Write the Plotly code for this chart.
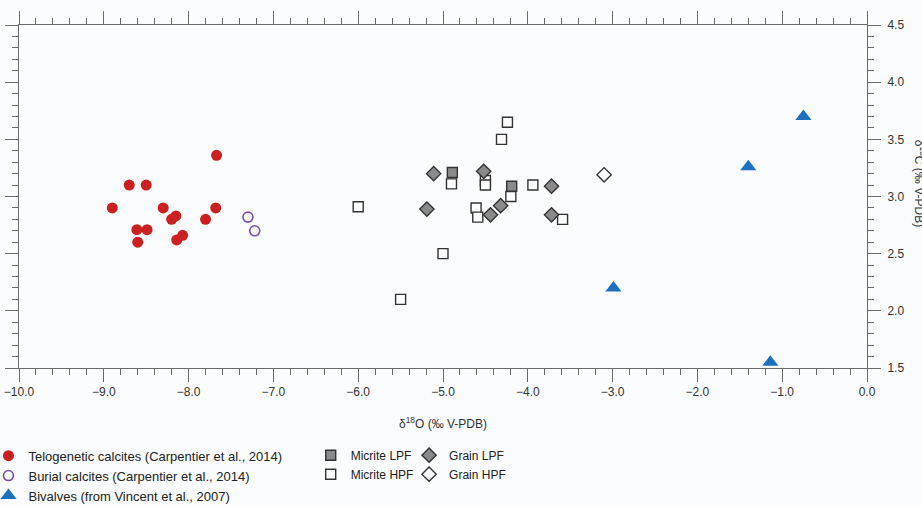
import plotly.graph_objects as go

# ---- data ----
telo_x = [-7.67, -8.70, -8.50, -8.90, -8.30, -8.20, -8.15, -7.68, -7.80, -8.61, -8.49, -8.60, -8.14, -8.07]
telo_y = [3.36, 3.10, 3.10, 2.90, 2.90, 2.80, 2.83, 2.90, 2.80, 2.71, 2.71, 2.60, 2.62, 2.66]

burial_x = [-7.30, -7.22]
burial_y = [2.82, 2.70]

biv_x = [-0.75, -1.40, -2.99, -1.14]
biv_y = [3.70, 3.26, 2.20, 1.55]

mlpf_x = [-4.89, -4.19]
mlpf_y = [3.21, 3.09]

mhpf_x = [-4.24, -4.31, -4.90, -4.50, -4.50, -4.20, -3.94, -6.00, -4.61, -4.59, -3.59, -5.00, -5.50]
mhpf_y = [3.65, 3.50, 3.11, 3.14, 3.10, 3.00, 3.10, 2.91, 2.90, 2.82, 2.80, 2.50, 2.10]

glpf_x = [-5.11, -4.52, -3.72, -5.19, -4.32, -4.44, -3.72]
glpf_y = [3.20, 3.22, 3.09, 2.89, 2.92, 2.84, 2.84]

ghpf_x = [-3.10]
ghpf_y = [3.19]

x_range = [-10, 0]
y_range = [1.5, 4.5]

BG = "#fafcfd"
FONT = "Liberation Sans, Arial, sans-serif"

fig = go.Figure()

fig.add_trace(go.Scatter(
    x=telo_x, y=telo_y, mode="markers", name="Telogenetic calcites (Carpentier et al., 2014)",
    marker=dict(symbol="circle", size=11, color="#cc2020", line=dict(width=0)),
    legend="legend"))
fig.add_trace(go.Scatter(
    x=burial_x, y=burial_y, mode="markers", name="Burial calcites (Carpentier et al., 2014)",
    marker=dict(symbol="circle-open", size=10, color="#7b4fb0", line=dict(width=1.6)),
    legend="legend"))
fig.add_trace(go.Scatter(
    x=biv_x, y=biv_y, mode="markers", name="Bivalves (from Vincent et al., 2007)",
    marker=dict(symbol="triangle-up", size=14, color="#1d6fc0", line=dict(width=0)),
    legend="legend"))

fig.add_trace(go.Scatter(
    x=mhpf_x, y=mhpf_y, mode="markers", name="Micrite HPF",
    marker=dict(symbol="square", size=10, color="white", line=dict(width=1.4, color="#333333")),
    legend="legend2", legendrank=2))
fig.add_trace(go.Scatter(
    x=mlpf_x, y=mlpf_y, mode="markers", name="Micrite LPF",
    marker=dict(symbol="square", size=10, color="#8a8a8a", line=dict(width=1.4, color="#333333")),
    legend="legend2", legendrank=1))
fig.add_trace(go.Scatter(
    x=glpf_x, y=glpf_y, mode="markers", name="Grain LPF",
    marker=dict(symbol="diamond", size=11, color="#8a8a8a", line=dict(width=1.4, color="#333333")),
    legend="legend3", legendrank=1))
fig.add_trace(go.Scatter(
    x=ghpf_x, y=ghpf_y, mode="markers", name="Grain HPF",
    marker=dict(symbol="diamond", size=11, color="white", line=dict(width=1.4, color="#333333")),
    legend="legend3", legendrank=2))

axis_common = dict(
    showgrid=False, zeroline=False, showline=True, linecolor="#6a6a6a", linewidth=1,
    ticks="outside", tickcolor="#6a6a6a", ticklen=13, tickwidth=1, mirror="allticks",
    tickfont=dict(family=FONT, size=12, color="#333333"),
)

fig.update_xaxes(
    range=x_range, dtick=1, tick0=-10, tickformat=".1f",
    minor=dict(dtick=0.2, ticks="outside", ticklen=6, tickcolor="#6a6a6a"),
    title=dict(text="δ<sup>18</sup>O (‰ V-PDB)", font=dict(family=FONT, size=12, color="#333333"), standoff=21),
    **axis_common)
fig.update_yaxes(
    range=y_range, dtick=0.5, tick0=1.5, tickformat=".1f", side="right", ticklabelstandoff=4,
    minor=dict(dtick=0.1, ticks="outside", ticklen=6, tickcolor="#6a6a6a"),
    **axis_common)

legend_common = dict(
    bgcolor="rgba(0,0,0,0)", borderwidth=0, orientation="v",
    xanchor="left", yanchor="top", itemsizing="trace", tracegroupgap=0,
)

fig.update_layout(
    width=922, height=505,
    margin=dict(l=19, r=55, t=25, b=137, autoexpand=False),
    paper_bgcolor=BG, plot_bgcolor=BG,
    showlegend=True,
    legend=dict(x=-0.036, y=-0.212, font=dict(family=FONT, size=13, color="#222222"), **legend_common),
    legend2=dict(x=0.344, y=-0.212, font=dict(family=FONT, size=12, color="#222222"), **legend_common),
    legend3=dict(x=0.460, y=-0.212, font=dict(family=FONT, size=12, color="#222222"), **legend_common),
    annotations=[dict(
        text="δ<sup>13</sup>C (‰ V-PDB)", xref="paper", yref="paper",
        x=(920 - 19) / 848, y=0.54, xanchor="center", yanchor="middle",
        textangle=90, showarrow=False,
        font=dict(family=FONT, size=12, color="#333333"))],
)

fig.write_html(
    "out.html",
    config={"displayModeBar": False},
    post_script="document.body.style.margin='0';document.body.style.background='%s';" % BG,
)
